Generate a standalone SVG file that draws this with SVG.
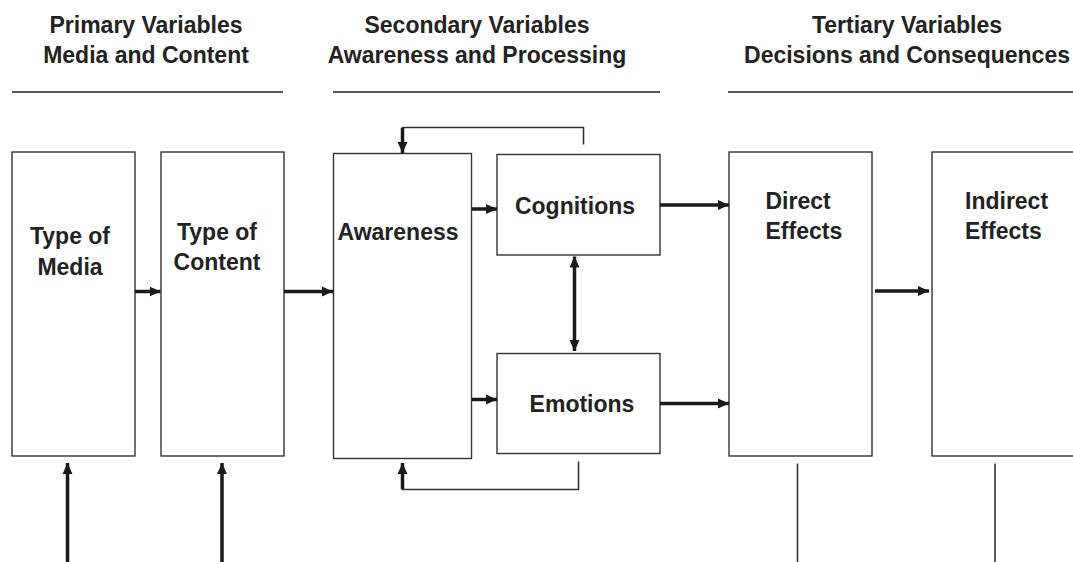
<svg xmlns="http://www.w3.org/2000/svg" width="1073" height="562" viewBox="0 0 1073 562">
<style>
.t{font-family:"Liberation Sans",Arial,sans-serif;font-weight:bold;font-size:23px;fill:#222}
.c{text-anchor:middle}
.box{fill:#fff;stroke:#333;stroke-width:1.4}
.rule{stroke:#222;stroke-width:1.4;fill:none}
.a{stroke:#1a1a1a;stroke-width:3.5;fill:none}
.f{stroke:#333;stroke-width:1.6;fill:none}
</style>
<defs>
<marker id="ah" markerUnits="userSpaceOnUse" markerWidth="14" markerHeight="14" refX="11" refY="7" orient="auto-start-reverse">
<path d="M0,2 L11,7 L0,12 Z" fill="#1a1a1a"/>
</marker>
</defs>
<g id="headers">
<text class="t c" x="146" y="33">Primary Variables</text>
<text class="t c" x="146" y="62.5">Media and Content</text>
<line class="rule" x1="12" y1="92" x2="283" y2="92"/>
<text class="t c" x="477" y="33">Secondary Variables</text>
<text class="t c" x="477" y="62.5">Awareness and Processing</text>
<line class="rule" x1="333" y1="92" x2="660" y2="92"/>
<text class="t c" x="907" y="33">Tertiary Variables</text>
<text class="t c" x="907" y="62.5">Decisions and Consequences</text>
<line class="rule" x1="728" y1="92" x2="1073" y2="92"/>
</g>
<g id="media">
<rect class="box" x="12" y="152" width="123" height="304"/>
<text class="t c" x="70" y="244">Type of</text>
<text class="t c" x="70" y="275">Media</text>
</g>
<g id="content">
<rect class="box" x="161" y="152" width="123" height="304"/>
<text class="t c" x="217" y="240">Type of</text>
<text class="t c" x="217" y="270">Content</text>
</g>
<g id="awareness">
<rect class="box" x="333.5" y="153.5" width="138" height="305"/>
<text class="t c" x="398" y="240">Awareness</text>
</g>
<g id="cognitions">
<rect class="box" x="497" y="154.5" width="163" height="100.5"/>
<text class="t c" x="575" y="214">Cognitions</text>
</g>
<g id="emotions">
<rect class="box" x="497" y="353.5" width="163" height="100"/>
<text class="t c" x="582" y="411.5">Emotions</text>
</g>
<g id="direct">
<rect class="box" x="729" y="152" width="143" height="304"/>
<text class="t" x="765.5" y="209">Direct</text>
<text class="t" x="765.5" y="239">Effects</text>
</g>
<g id="indirect">
<rect class="box" x="932" y="152" width="150" height="304"/>
<text class="t" x="965" y="209">Indirect</text>
<text class="t" x="965" y="239">Effects</text>
</g>
<g id="connectors">
<line class="a" x1="135" y1="291.5" x2="160.5" y2="291.5" marker-end="url(#ah)"/>
<line class="a" x1="284" y1="291.5" x2="333" y2="291.5" marker-end="url(#ah)"/>
<line class="a" x1="472" y1="209" x2="497" y2="209" marker-end="url(#ah)"/>
<line class="a" x1="472" y1="399.5" x2="497" y2="399.5" marker-end="url(#ah)"/>
<line class="a" x1="574.5" y1="256.5" x2="574.5" y2="351" marker-start="url(#ah)" marker-end="url(#ah)"/>
<line class="a" x1="660" y1="205" x2="729" y2="205" marker-end="url(#ah)"/>
<line class="a" x1="660" y1="403.5" x2="729" y2="403.5" marker-end="url(#ah)"/>
<line class="a" x1="875" y1="291" x2="929" y2="291" marker-end="url(#ah)"/>
<path class="f" d="M583.5,144.5 V127.5 H402.5 V140"/>
<line class="a" x1="402.5" y1="128" x2="402.5" y2="153" marker-end="url(#ah)"/>
<path class="f" d="M578.5,461.5 V489.5 H402.5 V475"/>
<line class="a" x1="402.5" y1="489" x2="402.5" y2="463" marker-end="url(#ah)"/>
<line class="a" x1="67.5" y1="562" x2="67.5" y2="463" marker-end="url(#ah)"/>
<line class="a" x1="222" y1="562" x2="222" y2="463" marker-end="url(#ah)"/>
<line class="f" x1="797.5" y1="463.5" x2="797.5" y2="562"/>
<line class="f" x1="995" y1="463.5" x2="995" y2="562"/>
</g>
</svg>
